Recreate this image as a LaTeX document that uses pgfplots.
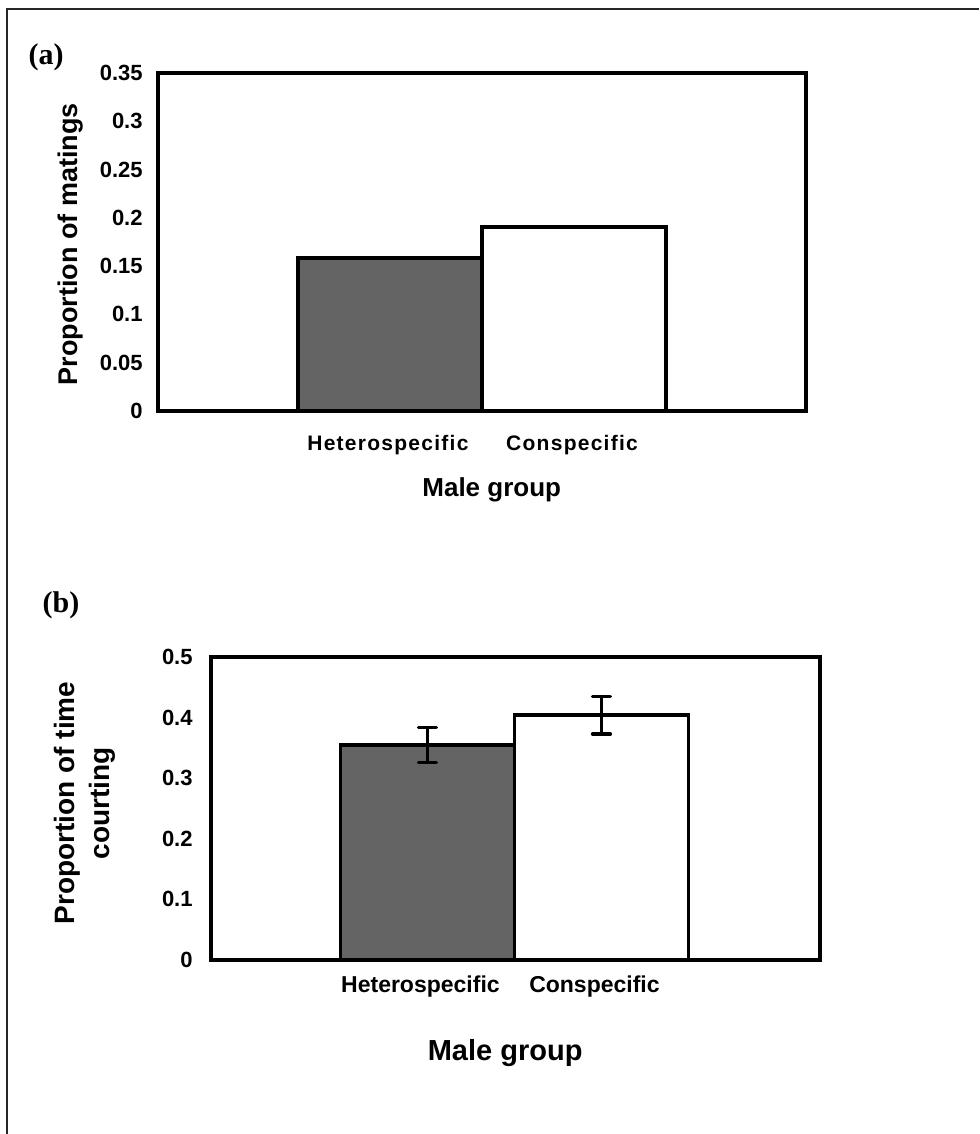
\documentclass[border=0pt]{standalone}
\usepackage{pgfplots}
\pgfplotsset{compat=1.18}
\usepackage{fontspec}
\setmainfont{Liberation Sans}
\newfontfamily\serifbf{Liberation Serif}
\definecolor{barfill}{RGB}{100,100,100}
\begin{document}
\begin{tikzpicture}
\useasboundingbox (0,0) rectangle (489.5pt,567pt);
\draw[line width=1pt, black!85] (3.5pt,0pt) -- (3.5pt,562.5pt) -- (489.5pt,562.5pt);
\node[font=\serifbf\bfseries\fontsize{15}{17}\selectfont, inner sep=0pt] at (23pt,538.5pt) {(a)};
\node[font=\serifbf\bfseries\fontsize{15}{17}\selectfont, inner sep=0pt] at (30.5pt,264.5pt) {(b)};

% ---------- panel (a) ----------
\begin{axis}[
  at={(79pt,361.5pt)}, anchor=south west,
  scale only axis, width=324pt, height=169pt,
  xmin=-1.26, xmax=2.26, ymin=0, ymax=0.35,
  xtick={0,1}, xticklabels={Heterospecific,Conspecific},
  ytick={0,0.05,0.1,0.15,0.2,0.25,0.3,0.35},
  yticklabels={0,0.05,0.1,0.15,0.2,0.25,0.3,0.35},
  major tick length=0pt,
  axis line style={line width=2pt},
  yticklabel style={font=\bfseries\fontsize{11}{13}\selectfont, anchor=east, inner sep=0pt, xshift=-7.5pt},
  xticklabel style={font=\bfseries\fontsize{10.5}{12}\selectfont\addfontfeatures{LetterSpace=6}, anchor=north, inner sep=0pt, yshift=-12pt, xshift=-1pt},
  xlabel={Male group},
  xlabel style={font=\bfseries\fontsize{13}{15}\selectfont, at={(axis description cs:0.515,0)}, anchor=center, yshift=-39.5pt},
  ylabel={Proportion of matings},
  ylabel style={font=\bfseries\fontsize{13.5}{16}\selectfont, at={(axis description cs:-0.1343,0.494)}, anchor=center},
]
\addplot[ybar, bar width=1, bar shift=0pt, fill=barfill, draw=black, line width=2pt] coordinates {(0,0.158)};
\addplot[ybar, bar width=1, bar shift=0pt, fill=white, draw=black, line width=2pt] coordinates {(1,0.1905)};
\end{axis}

% ---------- panel (b) ----------
\begin{axis}[
  at={(105.5pt,87pt)}, anchor=south west,
  scale only axis, width=304.5pt, height=151.5pt,
  xmin=-1.244, xmax=2.256, ymin=0, ymax=0.5,
  xtick={0,1}, xticklabels={Heterospecific,Conspecific},
  ytick={0,0.1,0.2,0.3,0.4,0.5},
  yticklabels={0,0.1,0.2,0.3,0.4,0.5},
  major tick length=0pt,
  axis line style={line width=2pt},
  yticklabel style={font=\bfseries\fontsize{11}{13}\selectfont, anchor=east, inner sep=0pt, xshift=-9pt},
  xticklabel style={font=\bfseries\fontsize{11.5}{13}\selectfont, anchor=north, inner sep=0pt, yshift=-7.5pt, xshift=-3.5pt},
  xlabel={Male group},
  xlabel style={font=\bfseries\fontsize{14.5}{17}\selectfont, at={(axis description cs:0.483,0)}, anchor=center, yshift=-46.5pt},
  ylabel={Proportion of time\\courting},
  ylabel style={font=\bfseries\fontsize{14}{17.5}\selectfont, align=center, at={(axis description cs:-0.207,0.518)}, anchor=center},
]
\addplot[ybar, bar width=1, bar shift=0pt, fill=barfill, draw=black, line width=1.75pt,
  error bars/.cd, y dir=both, y explicit,
  error bar style={line width=1.6pt, black},
  error mark options={rotate=90, line width=1.6pt, mark size=4.5pt, black, line cap=round}]
  coordinates {(0,0.355) +- (0,0.029)};
\addplot[ybar, bar width=1, bar shift=0pt, fill=white, draw=black, line width=1.75pt,
  error bars/.cd, y dir=both, y explicit,
  error bar style={line width=1.6pt, black},
  error mark options={rotate=90, line width=1.6pt, mark size=4.5pt, black, line cap=round}]
  coordinates {(1,0.404) +- (0,0.031)};
\end{axis}
\end{tikzpicture}
\end{document}
